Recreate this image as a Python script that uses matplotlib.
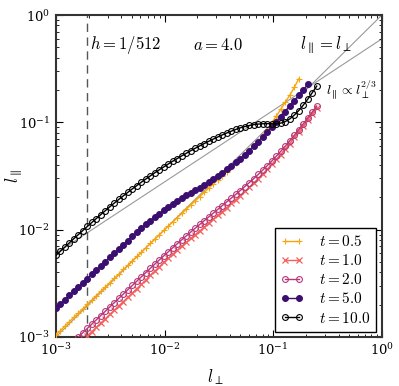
import numpy as np
import matplotlib
matplotlib.use("Agg")
import matplotlib.pyplot as plt

plt.rcParams['mathtext.fontset'] = 'cm'
plt.rcParams['font.family'] = ['DejaVu Serif']
plt.rcParams['axes.unicode_minus'] = True

# shared l_perp sample positions
l_perp = [0.001000, 0.001100, 0.001210, 0.001331, 0.001464, 0.001611, 0.001772, 0.001949,
          0.002144, 0.002358, 0.002594, 0.002853, 0.003138, 0.003452, 0.003797, 0.004177,
          0.004595, 0.005054, 0.005560, 0.006116, 0.006727, 0.007400, 0.008140, 0.008954,
          0.009850, 0.010835, 0.011918, 0.013110, 0.014421, 0.015863, 0.017449, 0.019194,
          0.021114, 0.023225, 0.025548, 0.028102, 0.030913, 0.034004, 0.037404, 0.041145,
          0.045259, 0.049785, 0.054764, 0.060240, 0.066264, 0.072890, 0.080180, 0.088197,
          0.097017, 0.106719, 0.117391, 0.129130, 0.142043, 0.156247, 0.171872, 0.189059,
          0.207965, 0.228762, 0.251638]

# log10(l_par)
log_lpar_t05 = [-2.980, -2.940, -2.899, -2.858, -2.817, -2.777, -2.737, -2.696, -2.656, -2.614,
                -2.574, -2.534, -2.493, -2.453, -2.413, -2.371, -2.331, -2.290, -2.250, -2.210,
                -2.169, -2.128, -2.087, -2.047, -2.007, -1.967, -1.928, -1.888, -1.849, -1.810,
                -1.770, -1.731, -1.692, -1.652, -1.613, -1.574, -1.536, -1.498, -1.459, -1.420,
                -1.381, -1.343, -1.302, -1.260, -1.219, -1.176, -1.123, -1.067, -1.005, -0.943,
                -0.878, -0.812, -0.747, -0.675, -0.595]
log_lpar_t1 = [-2.990, -2.950, -2.910, -2.870, -2.830, -2.790, -2.750, -2.710, -2.670, -2.630,
               -2.590, -2.550, -2.510, -2.470, -2.425, -2.386, -2.347, -2.304, -2.266, -2.228,
               -2.191, -2.154, -2.118, -2.082, -2.046, -2.011, -1.976, -1.936, -1.901, -1.866,
               -1.831, -1.796, -1.756, -1.721, -1.685, -1.644, -1.607, -1.564, -1.525, -1.480,
               -1.439, -1.391, -1.346, -1.300, -1.247, -1.197, -1.141, -1.088, -1.034, -0.974,
               -0.919, -0.863]
log_lpar_t2 = [-3.000, -2.960, -2.920, -2.880, -2.840, -2.800, -2.760, -2.720, -2.680, -2.640,
               -2.600, -2.560, -2.520, -2.480, -2.440, -2.400, -2.360, -2.321, -2.282, -2.244,
               -2.206, -2.168, -2.131, -2.094, -2.058, -2.022, -1.986, -1.951, -1.916, -1.881,
               -1.846, -1.811, -1.776, -1.741, -1.706, -1.671, -1.635, -1.599, -1.562, -1.524,
               -1.485, -1.445, -1.404, -1.361, -1.316, -1.270, -1.222, -1.172, -1.121, -1.068,
               -1.014, -0.959, -0.904, -0.848]
log_lpar_t5 = [-2.731, -2.692, -2.653, -2.613, -2.574, -2.535, -2.495, -2.456, -2.417, -2.377,
               -2.338, -2.299, -2.259, -2.220, -2.181, -2.141, -2.102, -2.063, -2.024, -1.987,
               -1.951, -1.916, -1.882, -1.850, -1.819, -1.789, -1.760, -1.732, -1.706, -1.681,
               -1.657, -1.633, -1.608, -1.582, -1.555, -1.527, -1.498, -1.469, -1.439, -1.407,
               -1.373, -1.338, -1.301, -1.263, -1.223, -1.181, -1.138, -1.093, -1.046, -0.998,
               -0.949, -0.899, -0.848, -0.797, -0.747, -0.697, -0.647]
log_lpar_t10 = [-2.240, -2.201, -2.162, -2.123, -2.084, -2.046, -2.008, -1.970, -1.933, -1.896,
                -1.859, -1.823, -1.787, -1.752, -1.718, -1.685, -1.652, -1.620, -1.589, -1.558,
                -1.528, -1.499, -1.470, -1.442, -1.415, -1.388, -1.362, -1.337, -1.312, -1.288,
                -1.264, -1.241, -1.219, -1.197, -1.176, -1.156, -1.136, -1.117, -1.099, -1.082,
                -1.066, -1.051, -1.039, -1.029, -1.021, -1.016, -1.013, -1.012, -1.013, -1.013,
                -1.007, -0.993, -0.968, -0.933, -0.890, -0.840, -0.784, -0.724, -0.662]

# first sample index of each series on the shared l_perp grid
start_t05, start_t1, start_t2, start_t5, start_t10 = 0, 7, 5, 0, 0

labels = ['$t = 0.5$', '$t = 1.0$', '$t = 2.0$', '$t = 5.0$', '$t = 10.0$']
h_value = 1 / 512
ref_ends = [1e-3, 1.0]
slope_coef = 0.6

fig = plt.figure(figsize=(3.99, 3.86), dpi=100)
ax = fig.add_axes([0.140, 0.127, 0.817, 0.834])

x = np.array(l_perp)
series = [
    (start_t05, log_lpar_t05, dict(color='#fba40a', marker='+', ms=4.5, mew=0.8, mfc='none')),
    (start_t1, log_lpar_t1, dict(color='#f1605d', marker='x', ms=4.5, mew=0.9)),
    (start_t2, log_lpar_t2, dict(color='#b73779', marker='o', ms=4.2, mew=0.8, mfc='none')),
    (start_t5, log_lpar_t5, dict(color='#3b0f70', marker='o', ms=4.2, mew=0.8, mfc='#3b0f70')),
    (start_t10, log_lpar_t10, dict(color='black', marker='o', ms=4.2, mew=0.8, mfc='none')),
]

# reference lines
xr = np.array(ref_ends)
ax.plot(xr, xr, color='#999999', lw=0.8, zorder=1)
ax.plot(xr, slope_coef * xr ** (2 / 3), color='#999999', lw=0.8, zorder=1)
ax.axvline(h_value, color='#555555', lw=1.0, dashes=(6, 4), zorder=1)

for (s, ly, kw), lab in zip(series, labels):
    xs = x[s:s + len(ly)]
    ax.plot(xs, 10 ** np.array(ly), lw=1.0, label=lab, zorder=3, **kw)

ax.set_xscale('log')
ax.set_yscale('log')
ax.set_xlim(1e-3, 1)
ax.set_ylim(1e-3, 1)

for sp in ax.spines.values():
    sp.set_linewidth(1.5)
    sp.set_color('#333333')
ax.tick_params(which='both', direction='in', top=True, right=True, labelsize=9.5, pad=4)
ax.tick_params(which='major', length=5, width=0.8)
ax.tick_params(which='minor', length=2.5, width=0.6)

ax.set_xlabel(r'$l_\perp$', fontsize=12)
ax.set_ylabel(r'$l_\parallel$', fontsize=12)
ax.xaxis.set_label_coords(0.49, -0.095)
ax.yaxis.set_label_coords(-0.095, 0.5)

ax.text(0.00205, 0.525, r'$h = 1/512$', fontsize=12, ha='left', va='center')
ax.text(0.031, 0.525, r'$a = 4.0$', fontsize=12, ha='center', va='center')
ax.text(0.176, 0.525, r'$l_\parallel = l_\perp$', fontsize=12, ha='left', va='center')
ax.text(0.305, 0.2, r'$l_\parallel \propto l_\perp^{2/3}$', fontsize=10, ha='left', va='center')

leg = ax.legend(loc='lower right', numpoints=2, fancybox=False, framealpha=1,
                edgecolor='black', fontsize=11, handlelength=1.5, borderaxespad=0.35,
                labelspacing=0.27, handletextpad=1.0, borderpad=0.4)
leg.get_frame().set_linewidth(1.0)

fig.savefig('out.png', dpi=100)
